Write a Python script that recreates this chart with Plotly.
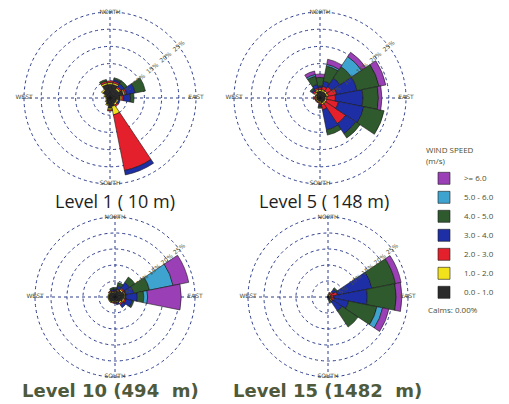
import plotly.graph_objects as go

W, H = 509, 404
OFF = 8  # the page shows the figure shifted by the body margin

directions = ["N", "NNE", "NE", "ENE", "E", "ESE", "SE", "SSE",
              "S", "SSW", "SW", "WSW", "W", "WNW", "NW", "NNW"]
dir_angles = [i * 22.5 for i in range(16)]

speed_bins = ["0.0 - 1.0", "1.0 - 2.0", "2.0 - 3.0", "3.0 - 4.0",
              "4.0 - 5.0", "5.0 - 6.0", ">= 6.0"]
bin_colors = ["#2b2b2b", "#f2e21c", "#e3202b", "#1e2fa6",
              "#2e5a2e", "#3fa3cf", "#9a3fb6"]

panel_titles = ["Level 1 ( 10 m)", "Level 5 ( 148 m)",
                "Level 10 (494  m)", "Level 15 (1482  m)"]

ring_values = [5, 10, 15, 20, 25]
ring_labels = ["5%", "10%", "15%", "20%", "25%"]
compass_vals = [0, 90, 180, 270]
compass_labels = ["NORTH", "EAST", "SOUTH", "WEST"]
outer_ring = 25
radial_max = 26

# frequency (%) per speed bin (rows) and direction (columns: N ... NNW)
level1_freq = [
    [4.0, 4.0, 3.0, 4.0, 3.0, 2.0, 2.0, 2.5, 3.0, 2.0, 1.5, 1.0, 1.0, 1.5, 2.5, 4.0],
    [0.5, 0.5, 0.5, 0.5, 0.5, 0.5, 0.5, 2.5, 0.5, 0.3, 0.2, 0.2, 0.2, 0.3, 0.5, 0.5],
    [0.5, 0.5, 0.5, 0.5, 0.5, 0.0, 0.5, 16.5, 0.3, 0.0, 0.0, 0.0, 0.0, 0.0, 0.0, 0.5],
    [0.0, 0.5, 1.0, 2.5, 2.0, 0.5, 0.0, 1.3, 0.0, 0.0, 0.0, 0.0, 0.0, 0.0, 0.0, 0.0],
    [0.0, 0.5, 1.0, 3.0, 1.0, 0.0, 0.0, 0.0, 0.0, 0.0, 0.0, 0.0, 0.0, 0.0, 0.0, 0.5],
    [0.0, 0.0, 0.0, 0.0, 0.0, 0.0, 0.0, 0.0, 0.0, 0.0, 0.0, 0.0, 0.0, 0.0, 0.0, 0.0],
    [0.0, 0.0, 0.0, 0.0, 0.0, 0.0, 0.0, 0.0, 0.0, 0.0, 0.0, 0.0, 0.0, 0.0, 0.0, 0.0],
]
level5_freq = [
    [2.0, 2.0, 2.0, 2.0, 1.5, 1.5, 1.5, 1.5, 1.0, 1.0, 1.0, 1.0, 1.0, 1.0, 1.5, 2.0],
    [0.5, 0.5, 0.5, 0.5, 0.5, 0.5, 0.5, 0.5, 0.5, 0.3, 0.3, 0.3, 0.5, 0.3, 0.5, 0.5],
    [0.5, 1.0, 1.5, 2.5, 2.5, 3.5, 7.0, 1.5, 0.5, 0.2, 0.2, 0.2, 0.5, 0.2, 0.5, 0.5],
    [0.5, 1.5, 3.0, 6.0, 8.0, 7.5, 3.5, 6.0, 0.5, 0.0, 0.0, 0.0, 0.0, 0.0, 0.5, 1.0],
    [2.5, 4.5, 4.0, 6.5, 4.5, 6.0, 1.5, 1.5, 0.5, 0.0, 0.0, 0.0, 0.0, 0.0, 0.5, 2.5],
    [0.0, 0.5, 3.5, 0.0, 0.0, 0.0, 0.0, 0.0, 0.0, 0.0, 0.0, 0.0, 0.0, 0.0, 0.0, 0.5],
    [1.0, 1.5, 1.5, 2.0, 1.0, 0.0, 0.0, 0.0, 0.0, 0.0, 0.0, 0.0, 0.0, 0.0, 0.0, 1.0],
]
level10_freq = [
    [1.5, 2.0, 2.5, 3.0, 3.0, 2.5, 2.0, 1.5, 1.5, 1.5, 2.0, 2.0, 2.0, 2.0, 2.0, 1.5],
    [0.3, 0.3, 0.5, 0.3, 0.3, 0.5, 0.5, 0.3, 0.3, 0.3, 0.2, 0.2, 0.2, 0.2, 0.3, 0.3],
    [0.2, 0.3, 0.5, 0.2, 0.2, 0.5, 0.5, 0.2, 0.2, 0.2, 0.0, 0.0, 0.0, 0.0, 0.2, 0.2],
    [0.5, 1.0, 2.0, 2.5, 3.5, 2.0, 1.0, 0.5, 0.0, 0.0, 0.0, 0.0, 0.0, 0.0, 0.0, 0.5],
    [0.5, 1.0, 2.0, 5.0, 2.0, 0.5, 0.0, 0.0, 0.0, 0.0, 0.0, 0.0, 0.0, 0.0, 0.0, 0.5],
    [0.0, 0.0, 0.0, 7.5, 1.2, 0.0, 0.0, 0.0, 0.0, 0.0, 0.0, 0.0, 0.0, 0.0, 0.0, 0.0],
    [0.0, 0.0, 0.0, 5.0, 10.5, 0.0, 0.0, 0.0, 0.0, 0.0, 0.0, 0.0, 0.0, 0.0, 0.0, 0.0],
]
level15_freq = [
    [0.3, 0.5, 0.5, 0.5, 0.5, 0.8, 1.0, 0.5, 0.3, 0.3, 0.3, 0.3, 0.3, 0.3, 0.3, 0.3],
    [0.0, 0.5, 0.5, 0.5, 0.3, 0.3, 0.3, 0.0, 0.0, 0.0, 0.0, 0.0, 0.0, 0.0, 0.0, 0.0],
    [0.0, 0.5, 1.0, 2.0, 1.0, 1.0, 0.5, 0.0, 0.0, 0.0, 0.0, 0.0, 0.0, 0.0, 0.0, 0.0],
    [0.0, 0.0, 1.0, 11.0, 10.5, 4.5, 3.5, 0.5, 0.0, 0.0, 0.0, 0.0, 0.0, 0.0, 0.0, 0.0],
    [0.0, 0.0, 0.5, 7.5, 9.0, 9.0, 6.0, 1.0, 0.0, 0.0, 0.0, 0.0, 0.0, 0.0, 0.0, 0.0],
    [0.0, 0.0, 0.0, 0.0, 0.0, 1.8, 0.0, 0.0, 0.0, 0.0, 0.0, 0.0, 0.0, 0.0, 0.0, 0.0],
    [0.0, 0.0, 0.0, 1.8, 1.8, 2.0, 0.0, 0.0, 0.0, 0.0, 0.0, 0.0, 0.0, 0.0, 0.0, 0.0],
]
panels_freq = [level1_freq, level5_freq, level10_freq, level15_freq]

# pixel geometry of each rose in the target picture: (center x, center y, outer ring radius)
panel_geom = [(110, 98, 86), (320, 98, 86), (115, 297, 80), (328, 297, 80)]
title_pos = [(115, 201), (324, 201), (110, 390), (327, 390)]


def px(x):
    return min(max((x - OFF) / W, 0.0), 1.0)


def py(y):
    return min(max(1 - (y - OFF) / H, 0.0), 1.0)


fig = go.Figure()
for p, freq in enumerate(panels_freq):
    pname = "polar" if p == 0 else f"polar{p + 1}"
    for b, row in enumerate(freq):
        fig.add_trace(go.Barpolar(
            r=row, theta=dir_angles, width=[22.5] * 16,
            name=speed_bins[b], legendgroup=speed_bins[b],
            showlegend=(p == 0),
            marker=dict(color=bin_colors[b], line=dict(color="#1a1a1a", width=0.6)),
            subplot=pname,
        ))
    # compass labels sitting on the outer ring
    fig.add_trace(go.Scatterpolar(
        r=[outer_ring] * 4, theta=compass_vals, text=compass_labels,
        mode="text", textposition="middle center", showlegend=False,
        hoverinfo="skip", subplot=pname,
        textfont=dict(size=6, color="#4a5030", family="DejaVu Sans"),
    ))

polar_common = dict(
    bgcolor="rgba(0,0,0,0)",
    radialaxis=dict(range=[0, radial_max], tickvals=ring_values, ticktext=ring_labels,
                    angle=40, showline=False, ticks="",
                    tickfont=dict(size=6, color="#4a5030", family="DejaVu Sans"),
                    gridcolor="#2c3d8c", griddash="3px,3px", gridwidth=1.2),
    angularaxis=dict(direction="clockwise", rotation=90, tickvals=compass_vals,
                     showticklabels=False, showline=False, ticks="",
                     gridcolor="#2c3d8c", griddash="3px,3px", gridwidth=1.2),
)

layout = dict(width=W, height=H,
              margin=dict(l=0, r=0, t=0, b=0, autoexpand=False),
              paper_bgcolor="white", plot_bgcolor="white", barmode="stack",
              font=dict(family="Open Sans", color="#222"))
for p, (cx, cy, r) in enumerate(panel_geom):
    pname = "polar" if p == 0 else f"polar{p + 1}"
    rr = r * radial_max / outer_ring
    dom = dict(x=[px(cx - rr), px(cx + rr)], y=[py(cy + rr), py(cy - rr)])
    layout[pname] = dict(domain=dom, barmode="stack", bargap=0, **polar_common)
fig.update_layout(**layout)

annotations = []
for p, (tx, ty) in enumerate(title_pos):
    bold = p >= 2
    annotations.append(dict(
        x=px(tx), y=py(ty), xref="paper", yref="paper", showarrow=False,
        text=("<b>%s</b>" % panel_titles[p]) if bold else panel_titles[p],
        font=dict(size=18, color="#4f5a3c" if bold else "#1e1e1e",
                  family="DejaVu Sans" if bold else "Open Sans"),
        xanchor="center", yanchor="middle"))
annotations.append(dict(x=px(426), y=py(309), xref="paper", yref="paper",
                        showarrow=False, text="Calms: 0.00%", xanchor="left",
                        yanchor="middle", font=dict(size=8, color="#4a5030")))
fig.update_layout(annotations=annotations)

fig.update_layout(legend=dict(
    x=px(424), y=py(143), xanchor="left", yanchor="top",
    traceorder="reversed", bgcolor="rgba(0,0,0,0)",
    title=dict(text="WIND SPEED<br>(m/s)", font=dict(size=8, color="#4a5030")),
    font=dict(size=8, color="#4a5030"), itemwidth=30, tracegroupgap=0,
))

fig.write_html("out.html")
